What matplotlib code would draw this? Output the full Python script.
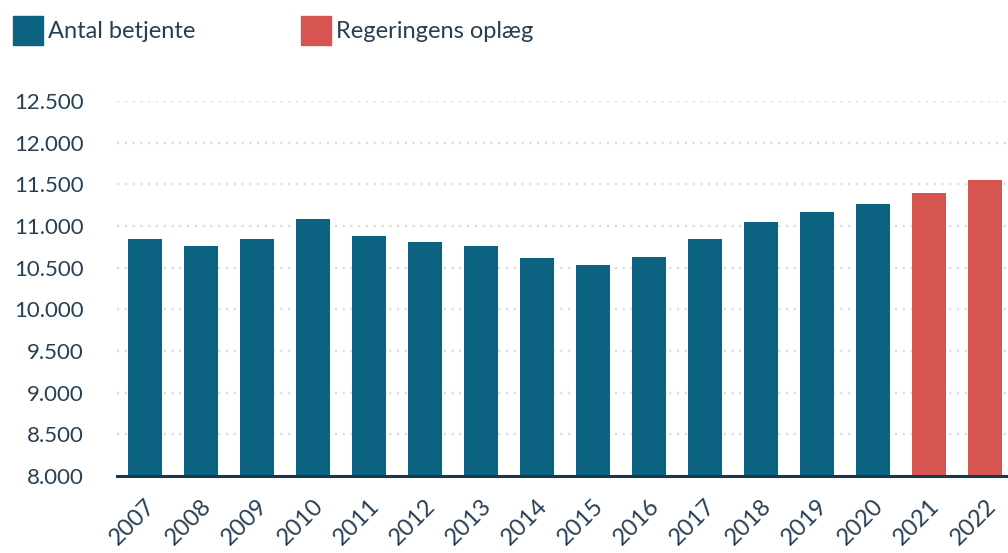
import numpy as np
from matplotlib import pyplot as plt
from matplotlib.patches import Rectangle
from matplotlib.ticker import FuncFormatter
import matplotlib.transforms as mtransforms

plt.rcParams['font.family'] = ['Lato', 'DejaVu Sans']

years = ['2007', '2008', '2009', '2010', '2011', '2012', '2013', '2014',
         '2015', '2016', '2017', '2018', '2019', '2020', '2021', '2022']
betjente = [10840, 10757, 10840, 11080, 10876, 10804, 10757, 10612,
            10536, 10632, 10840, 11052, 11172, 11268]
oplaeg = [11400, 11556]

blue = '#0b6381'
red = '#d65550'
text_col = '#273f54'

fig = plt.figure(figsize=(10.08, 5.53), dpi=100)
ax = fig.add_axes([117 / 1008, 1 - 476 / 553, 891 / 1008, 375 / 553])

x = np.arange(len(years))
ax.bar(x[:len(betjente)], betjente, width=0.6, color=blue, zorder=3)
ax.bar(x[len(betjente):], oplaeg, width=0.6, color=red, zorder=3)

ax.set_ylim(8000, 12500)
ax.set_xlim(-0.5, 15.41)
ax.set_yticks(np.arange(8000, 12501, 500))
ax.yaxis.set_major_formatter(FuncFormatter(lambda v, p: f'{int(v):,}'.replace(',', '.')))
ax.set_xticks(x)
ax.set_xticklabels(years, rotation=45, ha='right', rotation_mode='anchor')

offset = mtransforms.ScaledTranslation(20 / 100, -15 / 100, fig.dpi_scale_trans)
for lbl in ax.get_xticklabels():
    lbl.set_transform(lbl.get_transform() + offset)

ax.tick_params(axis='y', length=0, pad=24, labelsize=16, labelcolor=text_col)
ax.tick_params(axis='x', length=0, pad=14, labelsize=17, labelcolor=text_col)

for s in ['top', 'right', 'left']:
    ax.spines[s].set_visible(False)
ax.spines['bottom'].set_color('#163a4d')
ax.spines['bottom'].set_linewidth(2.2)
ax.spines['bottom'].set_zorder(4)

ax.grid(axis='y', color='#dcdcdc', linestyle=(0, (1, 2.5)), linewidth=1.6, zorder=0)
ax.set_axisbelow(True)

# legend
for xpos, col, label in [(13, blue, 'Antal betjente'), (301, red, 'Regeringens oplæg')]:
    fig.patches.append(Rectangle((xpos / 1008, 1 - 45 / 553), 30 / 1008, 29 / 553,
                                 transform=fig.transFigure, color=col))
    fig.text((xpos + 35) / 1008, 1 - 31 / 553, label, fontsize=17,
             color=text_col, va='center', ha='left')

fig.savefig('out.png', dpi=100)
